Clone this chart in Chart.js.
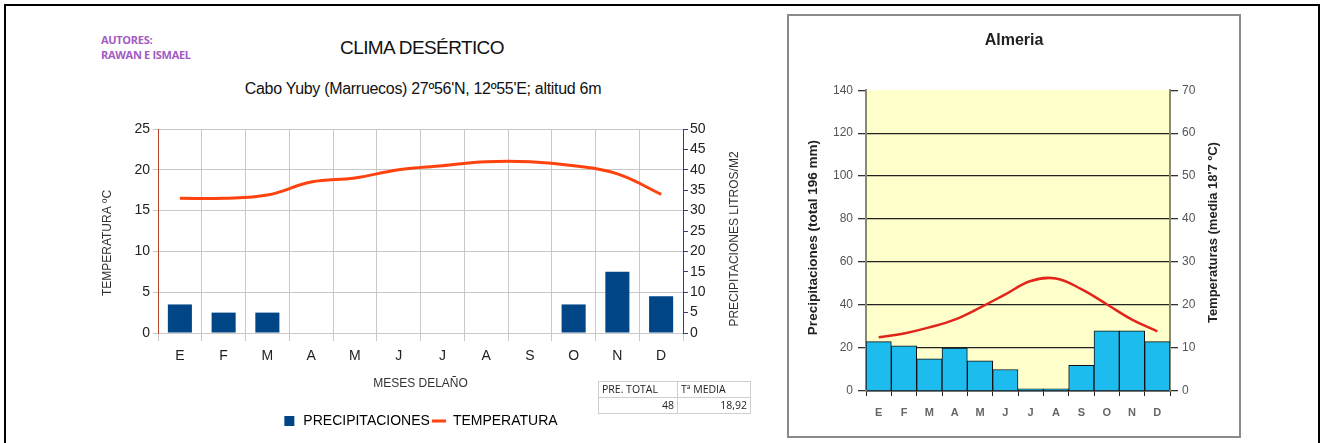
<!DOCTYPE html>
<html>
<head>
<meta charset="utf-8">
<script src="https://cdn.jsdelivr.net/npm/chart.js@4.4.0/dist/chart.umd.min.js"></script>
<style>
  body { margin: 0; width: 1324px; height: 443px; overflow: hidden; background: #fff; position: relative; font-family: "Liberation Sans", Arial, sans-serif; }
  .frame { position: absolute; left: 4px; top: 4px; width: 1312px; height: 460px; border: 2px solid #000; }
  .autores { position: absolute; left: 101px; top: 32px; font-family: "Open Sans", sans-serif; font-weight: bold; font-size: 11px; line-height: 15px; color: #a25cc2; letter-spacing: -0.3px; }
  .titulo { position: absolute; left: 222px; width: 400px; top: 37px; text-align: center; font-size: 19px; color: #111; letter-spacing: -0.6px; }
  .subtitulo { position: absolute; left: 173px; width: 500px; top: 80px; text-align: center; font-size: 16px; color: #111; letter-spacing: -0.3px; }
  #yuby { position: absolute; left: 90px; top: 110px; }
  table.resumen { position: absolute; left: 598px; top: 381px; border-collapse: collapse; font-family: "Open Sans", sans-serif; font-size: 10.5px; color: #222; }
  table.resumen td { border: 1px solid #cfcfcf; padding: 0 3px; height: 15px; line-height: 15px; }
  .almeria-box { position: absolute; left: 787px; top: 14px; width: 450px; height: 420px; border: 2px solid #8a8a8a; }
  #almeria { position: absolute; left: 0; top: 0; }
</style>
</head>
<body>
<div class="frame"></div>
<div class="autores">AUTORES:<br>RAWAN E ISMAEL</div>
<div class="titulo">CLIMA DESÉRTICO</div>
<div class="subtitulo">Cabo Yuby (Marruecos) 27º56'N, 12º55'E; altitud 6m</div>
<canvas id="yuby" width="660" height="330"></canvas>
<table class="resumen">
  <tr><td style="width:72px">PRE. TOTAL</td><td style="width:66px">Tª MEDIA</td></tr>
  <tr><td style="text-align:right">48</td><td style="text-align:right">18,92</td></tr>
</table>
<div class="almeria-box"><canvas id="almeria" width="450" height="420"></canvas></div>

<script>
const MESES = ["E","F","M","A","M","J","J","A","S","O","N","D"];

// Cabo Yuby
const YUBY_PREC = [7, 5, 5, 0, 0, 0, 0, 0, 0, 7, 15, 9];
const YUBY_TEMP = [16.5, 16.5, 16.9, 18.5, 19, 20, 20.5, 21, 21, 20.5, 19.5, 17];
const YUBY_TEMP_TICKS = [0, 5, 10, 15, 20, 25];
const YUBY_PREC_TICKS = [0, 5, 10, 15, 20, 25, 30, 35, 40, 45, 50];

// Almeria
const ALM_PREC = [23, 21, 15, 20, 14, 10, 1, 1, 12, 28, 28, 23];
const ALM_TEMP = [12.5, 13.4, 14.8, 16.6, 19.4, 22.5, 25.6, 26.2, 23.7, 20.2, 16.6, 13.9];

const NAVY = "#004586";
const ORANGE = "#ff420e";

// vertical axis titles, read bottom to top on both sides
const sideTitles = {
  id: "sideTitles",
  afterDraw(chart, args, opts) {
    const ctx = chart.ctx;
    (opts.items || []).forEach(t => {
      const s = chart.scales[t.scale];
      const x = t.edge === "left" ? s.left + t.offset : s.right - t.offset;
      const y = (s.top + s.bottom) / 2 + (t.shift || 0);
      ctx.save();
      ctx.translate(x, y);
      ctx.rotate(-Math.PI / 2);
      ctx.font = t.font;
      ctx.fillStyle = t.color;
      ctx.textAlign = "center";
      ctx.textBaseline = "middle";
      ctx.fillText(t.text, 0, 0);
      ctx.restore();
    });
  }
};

const areaFill = {
  id: "areaFill",
  beforeDraw(chart, args, opts) {
    if (!opts.color) return;
    const a = chart.chartArea;
    chart.ctx.save();
    chart.ctx.fillStyle = opts.color;
    chart.ctx.fillRect(a.left, a.top, a.right - a.left, a.bottom - a.top);
    chart.ctx.restore();
  }
};

const fixedSize = (w, h) => s => { if (w) s.width = w; if (h) s.height = h; };
const ticksFrom = list => s => { s.ticks = list.map(v => ({ value: v })); };

new Chart(document.getElementById("yuby"), {
  data: {
    labels: MESES,
    datasets: [
      {
        type: "line",
        label: "TEMPERATURA",
        data: YUBY_TEMP,
        yAxisID: "y",
        borderColor: ORANGE,
        borderWidth: 3,
        pointRadius: 0,
        tension: 0.4,
        order: 1,
      },
      {
        type: "bar",
        label: "PRECIPITACIONES",
        data: YUBY_PREC,
        yAxisID: "yP",
        backgroundColor: NAVY,
        barPercentage: 0.55,
        categoryPercentage: 1,
        order: 2,
      },
    ],
  },
  options: {
    responsive: false,
    animation: false,
    layout: { padding: { top: 19, bottom: 2 } },
    plugins: {
      legend: {
        position: "bottom",
        labels: {
          usePointStyle: true,
          boxHeight: 10,
          padding: 2,
          color: "#222",
          font: { family: "Liberation Sans", size: 14 },
          generateLabels: () => [
            { text: "PRECIPITACIONES", fillStyle: NAVY, strokeStyle: NAVY, lineWidth: 0, pointStyle: "rect", datasetIndex: 1 },
            { text: "TEMPERATURA", fillStyle: ORANGE, strokeStyle: ORANGE, lineWidth: 3, pointStyle: "line", datasetIndex: 0 },
          ],
        },
      },
      tooltip: { enabled: false },
      sideTitles: {
        items: [
          { scale: "y", edge: "left", offset: 18, shift: 12, text: "TEMPERATURA ºC", font: "12px 'Liberation Sans'", color: "#333" },
          { scale: "yP", edge: "right", offset: 15, shift: 8, text: "PRECIPITACIONES LITROS/M2", font: "12px 'Liberation Sans'", color: "#333" },
        ],
      },
    },
    scales: {
      x: {
        grid: { offset: true, color: "#c8c8c8", tickLength: 8 },
        border: { color: "#c8c8c8" },
        ticks: { color: "#222", padding: 7, font: { family: "Liberation Sans", size: 14 } },
        title: { display: true, text: "MESES DELAÑO", color: "#333", font: { family: "Liberation Sans", size: 12 }, padding: { top: 4, bottom: 21 } },
        afterFit: fixedSize(0, 79),
      },
      y: {
        position: "left",
        min: 0, max: 25,
        afterBuildTicks: ticksFrom(YUBY_TEMP_TICKS),
        grid: { color: "#c8c8c8", tickLength: 5, tickColor: "#c8c8c8" },
        border: { color: "#b5452a" },
        ticks: { color: "#222", padding: 3, font: { family: "Liberation Sans", size: 14 } },
        afterFit: fixedSize(68, 0),
      },
      yP: {
        position: "right",
        min: 0, max: 50,
        afterBuildTicks: ticksFrom(YUBY_PREC_TICKS),
        grid: { drawOnChartArea: false, tickLength: 5, tickColor: "#3d3d6b" },
        border: { color: "#3d3d6b" },
        ticks: { color: "#222", padding: 2, font: { family: "Liberation Sans", size: 14 } },
        afterFit: fixedSize(67, 0),
      },
    },
  },
  plugins: [sideTitles],
});

new Chart(document.getElementById("almeria"), {
  data: {
    labels: MESES,
    datasets: [
      {
        type: "line",
        label: "Temperaturas",
        data: ALM_TEMP,
        yAxisID: "yT",
        borderColor: "#e3241b",
        borderWidth: 2.5,
        pointRadius: 0,
        tension: 0.4,
        order: 1,
      },
      {
        type: "bar",
        label: "Precipitaciones",
        data: ALM_PREC,
        yAxisID: "y",
        backgroundColor: "#1cbcef",
        borderColor: "#111",
        borderWidth: 1,
        barPercentage: 1,
        categoryPercentage: 1,
        order: 2,
      },
    ],
  },
  options: {
    responsive: false,
    animation: false,
    layout: { padding: 0 },
    plugins: {
      legend: { display: false },
      tooltip: { enabled: false },
      title: {
        display: true,
        text: "Almeria",
        color: "#222",
        font: { family: "Liberation Sans", size: 16, weight: "bold" },
        padding: { top: 15, bottom: 40 },
      },
      areaFill: { color: "#ffffcc" },
      sideTitles: {
        items: [
          { scale: "y", edge: "left", offset: 24, shift: -3, text: "Precipitaciones (total 196 mm)", font: "bold 13.5px 'Liberation Sans'", color: "#222" },
          { scale: "yT", edge: "right", offset: 26, shift: -8, text: "Temperaturas (media 18'7 ºC)", font: "bold 13px 'Liberation Sans'", color: "#222" },
        ],
      },
    },
    scales: {
      x: {
        grid: { offset: true, drawOnChartArea: false, tickLength: 5, color: "#222" },
        border: { color: "#222", width: 1.5 },
        ticks: { color: "#666", padding: 10, font: { family: "Liberation Sans", size: 11, weight: "bold" } },
        afterFit: fixedSize(0, 45),
      },
      y: {
        position: "left",
        min: 0, max: 140,
        ticks: { stepSize: 20, color: "#555", padding: 5, font: { family: "Liberation Sans", size: 12 } },
        grid: {
          color: c => (c.tick && c.tick.value === 140 ? "rgba(0,0,0,0)" : "#222"),
          lineWidth: 1.3,
          tickColor: "#333",
          tickLength: 8,
        },
        border: { color: "#8a8a70", width: 2 },
        afterFit: fixedSize(77, 0),
      },
      yT: {
        position: "right",
        min: 0, max: 70,
        ticks: { stepSize: 10, color: "#555", padding: 4, font: { family: "Liberation Sans", size: 12 } },
        grid: { drawOnChartArea: false, tickColor: "#333", tickLength: 8, lineWidth: 1.3 },
        border: { color: "#8a8a70", width: 2 },
        afterFit: fixedSize(69, 0),
      },
    },
  },
  plugins: [areaFill, sideTitles],
});
</script>
</body>
</html>
